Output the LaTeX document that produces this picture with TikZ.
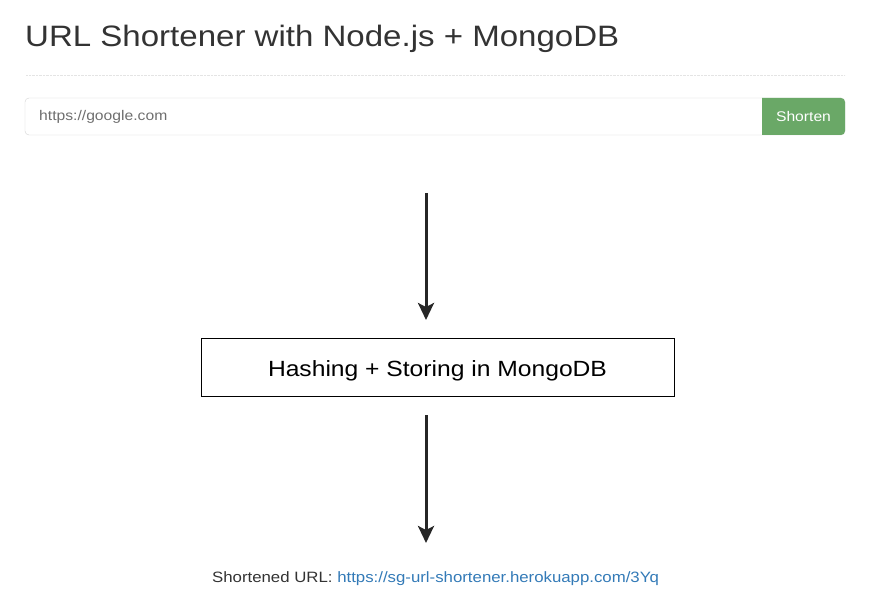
\documentclass[tikz,border=0pt]{standalone}
\usepackage{fontspec}
\setmainfont{Liberation Sans}[FakeStretch=1.12]
\usetikzlibrary{arrows.meta, positioning}
\definecolor{titlegray}{RGB}{51, 51, 51}
\definecolor{btngreen}{RGB}{106, 168, 103}
\definecolor{linkblue}{RGB}{51, 122, 183}
\definecolor{holdergray}{RGB}{110, 110, 110}
\definecolor{bordergray}{RGB}{210, 210, 210}

\begin{document}
\begin{tikzpicture}[x=1pt, y=-1pt,
    flow/.style={line width=3pt, draw=black!85, -{Stealth[length=17pt, width=16pt, inset=4pt]}},
    stagebox/.style={draw, thin, minimum width=473pt, minimum height=58pt, font=\fontsize{22}{26}\selectfont}]
    \useasboundingbox (0,0) rectangle (880,601);

    % Kopf
    \node[anchor=base west, inner sep=0pt, text=titlegray, font=\fontsize{29.5}{34}\selectfont] (title) at (25,47) {URL Shortener with Node.js + MongoDB};
    \draw[bordergray!60, densely dotted] (26,75) -- (845,75);

    % Eingabefeld
    \draw[bordergray, rounded corners=4pt] (25,98) rectangle (845,135);
    \fill[btngreen] (762,135) -- (762,98) [rounded corners=4pt] -- (845,98) -- (845,135) [sharp corners] -- cycle;
    \node[anchor=west, inner sep=0pt, text=holdergray, font=\fontsize{14}{16}\selectfont] (input) at (39,116.5) {https://google.com};
    \node[text=white, inner sep=0pt, font=\fontsize{14}{16}\selectfont] (button) at (803.5,116.5) {Shorten};

    % Ablauf
    \node[stagebox] (hash) at (437.5,367) {\raisebox{-3.5pt}[\height][\depth]{Hashing + Storing in MongoDB}};
    \node[anchor=base, inner sep=0pt, font=\fontsize{15}{18}\selectfont] (result) at (435.5,582)
        {\textcolor{titlegray}{Shortened URL:} \textcolor{linkblue}{https://sg-url-shortener.herokuapp.com/3Yq}};

    \coordinate (in1) at (426,193);
    \coordinate (out1) at (426,320);
    \coordinate (in2) at (426,415);
    \coordinate (out2) at (426,543);
    \draw[flow] (in1) -- (out1);
    \draw[flow] (in2) -- (out2);
\end{tikzpicture}
\end{document}
